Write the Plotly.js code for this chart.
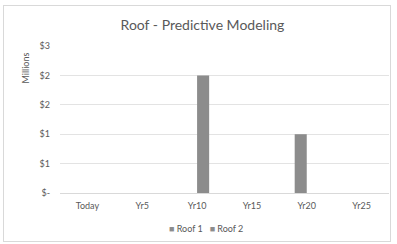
<!DOCTYPE html>
<html>
<head>
<meta charset="utf-8">
<script src="https://cdn.plot.ly/plotly-3.0.1.min.js"></script>
<style>
html,body{margin:0;padding:0;background:#fff;}
#frame{position:absolute;left:3px;top:5px;width:388px;height:237px;border:1px solid #d9d9d9;box-sizing:border-box;pointer-events:none;}
#chart{width:397px;height:244px;}
</style>
</head>
<body>
<div id="chart"></div>
<div id="frame"></div>
<script>
var categories = ["Today", "Yr5", "Yr10", "Yr15", "Yr20", "Yr25"];
var seriesNames = ["Roof 1", "Roof 2"];
var roof1 = [0, 0, 0, 0, 1.0, 0];
var roof2 = [0, 0, 2.0, 0, 0, 0];
var tickValues = [0, 0.5, 1, 1.5, 2, 2.5];
var tickLabels = ["$-", "$1", "$1", "$2", "$2", "$3"];
var barColor = "#8c8c8c";

var font = "Lato, 'Open Sans', sans-serif";
var traces = [
  {type: "bar", name: seriesNames[0], x: categories, y: roof1, marker: {color: barColor}},
  {type: "bar", name: seriesNames[1], x: categories, y: roof2, marker: {color: barColor}}
];
var legendText = seriesNames.map(function (n) {
  return '<span style="color:' + barColor + '">■</span> ' + n;
}).join('\u00a0\u00a0\u00a0');
var layout = {
  width: 397, height: 244,
  margin: {l: 60, r: 8, t: 46, b: 51},
  paper_bgcolor: "#fff", plot_bgcolor: "#fff",
  font: {family: font, color: "#595959", size: 9},
  title: {text: "Roof - Predictive Modeling", font: {family: font, size: 14, color: "#595959"},
          x: 0.51, xanchor: "center", y: 1 - 25/244, yref: "container", yanchor: "middle"},
  barmode: "group", bargap: 0.56, bargroupgap: 0,
  showlegend: false,
  xaxis: {type: "category", showgrid: false, showline: false, ticks: "", tickfont: {size: 9, color: "#595959"}, ticklabelstandoff: 6},
  yaxis: {range: [0, 2.5], tickvals: tickValues, ticktext: tickLabels, showgrid: true, gridcolor: "#e3e3e3",
          zeroline: true, zerolinecolor: "#d9d9d9", showline: false, ticks: "", tickfont: {size: 9, color: "#595959"}, ticklabelstandoff: 9},
  annotations: [
    {text: "Millions", xref: "paper", yref: "paper", x: -0.105, y: 0.85, xanchor: "center", yanchor: "middle",
     textangle: -90, showarrow: false, font: {size: 9, color: "#595959"}},
    {text: legendText, xref: "paper", yref: "paper", x: (206 - 60) / 329, y: (193 - 228) / 147,
     xanchor: "center", yanchor: "middle", showarrow: false, font: {size: 9, color: "#595959"}}
  ]
};
Plotly.newPlot("chart", traces, layout, {displayModeBar: false, staticPlot: true});
</script>
</body>
</html>
